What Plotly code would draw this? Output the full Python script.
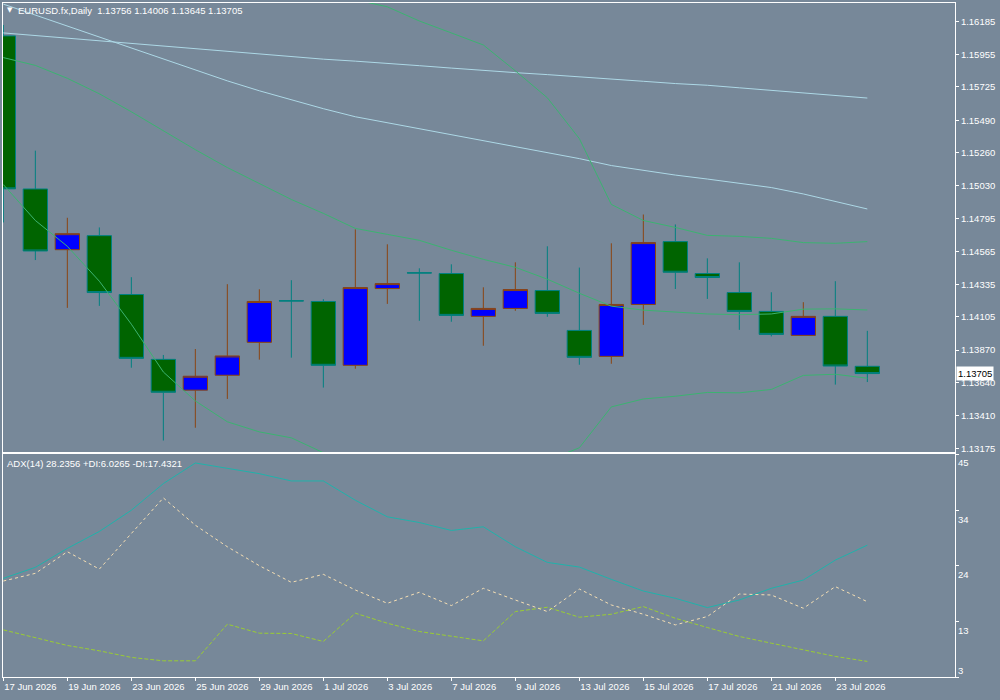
import plotly.graph_objects as go

# ---------------- data ----------------
dates = ["17 Jun 2026", "18 Jun 2026", "19 Jun 2026", "22 Jun 2026", "23 Jun 2026", "24 Jun 2026",
         "25 Jun 2026", "26 Jun 2026", "29 Jun 2026", "30 Jun 2026", "1 Jul 2026", "2 Jul 2026",
         "3 Jul 2026", "6 Jul 2026", "7 Jul 2026", "8 Jul 2026", "9 Jul 2026", "10 Jul 2026",
         "13 Jul 2026", "14 Jul 2026", "15 Jul 2026", "16 Jul 2026", "17 Jul 2026", "20 Jul 2026",
         "21 Jul 2026", "22 Jul 2026", "23 Jul 2026", "24 Jul 2026"]

opens = [1.16085, 1.15006, 1.14578, 1.14677, 1.14262, 1.13805, 1.13588, 1.13693, 1.13925, 1.14218,
         1.14213, 1.13763, 1.14304, 1.14415, 1.14410, 1.14108, 1.14164, 1.14290, 1.14009, 1.13826,
         1.14192, 1.14635, 1.14410, 1.14276, 1.14143, 1.13974, 1.14108, 1.13756]
highs = [1.16162, 1.15276, 1.14803, 1.14735, 1.14384, 1.13836, 1.13878, 1.14335, 1.14299, 1.14363,
         1.14229, 1.14721, 1.14616, 1.14447, 1.14475, 1.14313, 1.14489, 1.14602, 1.14452, 1.14623,
         1.14826, 1.14756, 1.14517, 1.14489, 1.14278, 1.14208, 1.14356, 1.14006]
lows = [1.14770, 1.14505, 1.14168, 1.14182, 1.13746, 1.13233, 1.13323, 1.13526, 1.13803, 1.13817,
        1.13606, 1.13739, 1.14196, 1.14077, 1.14070, 1.13901, 1.14147, 1.14105, 1.13767, 1.13774,
        1.14048, 1.14301, 1.14231, 1.14013, 1.13967, 1.13974, 1.13627, 1.13645]
closes = [1.15007, 1.14569, 1.14691, 1.14276, 1.13812, 1.13573, 1.13686, 1.13829, 1.14213, 1.14217,
          1.13763, 1.14311, 1.14339, 1.14414, 1.14115, 1.14164, 1.14297, 1.14129, 1.13819, 1.14192,
          1.14628, 1.14419, 1.14382, 1.14143, 1.13981, 1.14108, 1.13758, 1.13705]

ma_slow = [1.16106, 1.16087, 1.16068, 1.16049, 1.16031, 1.16013, 1.15995, 1.15977, 1.15959, 1.15940,
           1.15921, 1.15907, 1.15893, 1.15875, 1.15858, 1.15840, 1.15826, 1.15812, 1.15798, 1.15784,
           1.15765, 1.15749, 1.15737, 1.15719, 1.15702, 1.15685, 1.15666, 1.15647]
ma_fast = [1.16309, 1.16232, 1.16155, 1.16077, 1.16000, 1.15923, 1.15846, 1.15768, 1.15698, 1.15635,
           1.15572, 1.15515, 1.15473, 1.15431, 1.15389, 1.15347, 1.15304, 1.15262, 1.15220, 1.15171,
           1.15136, 1.15104, 1.15076, 1.15048, 1.15016, 1.14971, 1.14918, 1.14865]

bb_upper = [1.16827, 1.16991, 1.16991, 1.16998, 1.17047, 1.17118, 1.17054, 1.16949, 1.16794, 1.16612,
            1.16520, 1.16340, 1.16290, 1.16190, 1.16106, 1.16021, 1.15839, 1.15649, 1.15361, 1.14897,
            1.14784, 1.14735, 1.14679, 1.14672, 1.14658, 1.14628, 1.14623, 1.14635]
bb_middle = [1.15932, 1.15877, 1.15786, 1.15677, 1.15550, 1.15417, 1.15283, 1.15157, 1.15044, 1.14932,
             1.14834, 1.14728, 1.14686, 1.14644, 1.14574, 1.14510, 1.14454, 1.14370, 1.14271, 1.14180,
             1.14152, 1.14140, 1.14125, 1.14120, 1.14125, 1.14159, 1.14161, 1.14153]
bb_lower = [1.15037, 1.14784, 1.14602, 1.14356, 1.14053, 1.13716, 1.13512, 1.13365, 1.13294, 1.13252,
            1.13147, 1.13105, 1.13084, 1.13098, 1.13041, 1.12999, 1.13070, 1.13091, 1.13182, 1.13470,
            1.13526, 1.13545, 1.13572, 1.13569, 1.13593, 1.13692, 1.13700, 1.13672]

adx = [21.89, 23.99, 27.61, 30.85, 34.90, 39.99, 43.93, 42.98, 41.89, 40.50,
       40.50, 36.81, 33.65, 32.56, 31.04, 31.74, 27.93, 24.94, 24.05, 21.70,
       19.47, 18.08, 16.31, 17.76, 19.99, 21.57, 25.38, 28.2356]
plus_di = [12.05, 10.60, 9.07, 8.05, 6.79, 6.14, 6.14, 13.13, 11.42, 11.36,
           9.84, 15.23, 13.32, 11.74, 10.90, 9.95, 15.55, 16.37, 14.47, 15.04,
           16.50, 14.27, 12.50, 10.79, 9.51, 8.24, 6.98, 6.0265]
minus_di = [21.38, 22.85, 26.98, 23.66, 30.46, 37.26, 32.04, 27.93, 24.31, 21.13,
            22.66, 19.67, 17.13, 19.23, 16.69, 19.99, 17.76, 15.55, 19.85, 16.81,
            15.04, 13.00, 14.60, 18.90, 18.71, 16.18, 20.31, 17.4321]

price_ticks = [1.16185, 1.15955, 1.15725, 1.15490, 1.15260, 1.15030, 1.14795,
               1.14565, 1.14335, 1.14105, 1.13870, 1.13640, 1.13410, 1.13175]
adx_tick_vals = [45.53, 34.90, 24.27, 13.65, 3.00]
adx_tick_text = ["45", "34", "24", "13", "3"]

symbol = "EURUSD.fx,Daily"
last_price = closes[-1]

# ---------------- figure ----------------
BG = "#778899"
FONT = "Liberation Sans, Arial, sans-serif"
FS = 9.5
x = list(range(len(dates)))
date_idx = x[::2]

fig = go.Figure()

fig.add_trace(go.Candlestick(
    x=x, open=opens, high=highs, low=lows, close=closes,
    increasing=dict(fillcolor="#0000FF", line=dict(color="#8B4513", width=1)),
    decreasing=dict(fillcolor="#006400", line=dict(color="#008080", width=1)),
    whiskerwidth=0, xaxis="x", yaxis="y", showlegend=False, hoverinfo="skip"))

for ys, col in [(ma_slow, "#ADD8E6"), (ma_fast, "#ADD8E6"),
                (bb_upper, "#3CB371"), (bb_middle, "#3CB371"), (bb_lower, "#3CB371")]:
    fig.add_trace(go.Scatter(x=x, y=ys, mode="lines", line=dict(color=col, width=1),
                             xaxis="x", yaxis="y", showlegend=False, hoverinfo="skip"))

fig.add_trace(go.Scatter(x=x, y=adx, mode="lines", line=dict(color="#20B2AA", width=1),
                         xaxis="x2", yaxis="y2", showlegend=False, hoverinfo="skip"))
fig.add_trace(go.Scatter(x=x, y=plus_di, mode="lines",
                         line=dict(color="#9ACD32", width=1, dash="4px,2px"),
                         xaxis="x2", yaxis="y2", showlegend=False, hoverinfo="skip"))
fig.add_trace(go.Scatter(x=x, y=minus_di, mode="lines",
                         line=dict(color="#F5DEB3", width=1, dash="3px,3px"),
                         xaxis="x2", yaxis="y2", showlegend=False, hoverinfo="skip"))

W, H = 1000, 700
x_dom = [2.7 / W, 955 / W]
main_dom = [1 - 453.3 / H, 1 - 2.7 / H]
sub_dom = [1 - 679.3 / H, 1 - 455.7 / H]
x_range = [-0.02, 29.74]

axis_common = dict(showgrid=False, zeroline=False, showline=True, mirror=True,
                   linecolor="white", linewidth=1)

fig.update_layout(
    width=W, height=H,
    margin=dict(l=0, r=0, t=0, b=0),
    paper_bgcolor=BG, plot_bgcolor=BG,
    font=dict(family=FONT, size=FS, color="white"),
    boxgap=0.24, boxgroupgap=0,
    showlegend=False,
    xaxis=dict(domain=x_dom, anchor="y", range=x_range, showticklabels=False,
               ticks="", rangeslider=dict(visible=False), **axis_common),
    yaxis=dict(domain=main_dom, anchor="x", range=[1.13152, 1.16319], side="right",
               tickvals=price_ticks, ticktext=[f"{v:.5f}" for v in price_ticks],
               ticks="outside", ticklen=3, tickcolor="white",
               tickfont=dict(family=FONT, size=FS, color="white"), **axis_common),
    xaxis2=dict(domain=x_dom, anchor="y2", range=x_range,
                tickvals=date_idx, ticktext=[dates[i] for i in date_idx],
                ticks="outside", ticklen=3, tickcolor="white",
                ticklabelposition="outside right",
                tickfont=dict(family=FONT, size=FS, color="white"), **axis_common),
    yaxis2=dict(domain=sub_dom, anchor="x2", range=[2.98, 45.57], side="right",
                tickvals=adx_tick_vals, showticklabels=False,
                ticks="outside", ticklen=3, tickcolor="white", **axis_common),
)

annotations = []
# chart header
annotations.append(dict(
    text="\u25BC", x=10 / W, y=1 - 10.5 / H, xref="paper", yref="paper",
    xanchor="center", yanchor="middle", showarrow=False,
    font=dict(family="DejaVu Sans", size=7, color="white")))
annotations.append(dict(
    text=f"{symbol}\u00a0\u00a0{opens[-1]:.5f} {highs[-1]:.5f} {lows[-1]:.5f} {closes[-1]:.5f}",
    x=16 / W, y=1 - 10.5 / H, xref="paper", yref="paper",
    xanchor="left", yanchor="middle", showarrow=False,
    font=dict(family=FONT, size=FS, color="white")))
annotations.append(dict(
    text=f"ADX(14) {adx[-1]:.4f} +DI:{plus_di[-1]:.4f} -DI:{minus_di[-1]:.4f}",
    x=5 / W, y=1 - 464.5 / H, xref="paper", yref="paper",
    xanchor="left", yanchor="middle", showarrow=False,
    font=dict(family=FONT, size=FS, color="white")))
# current price marker
annotations.append(dict(
    text=f"{last_price:.5f}", x=956 / W, y=last_price, xref="paper", yref="y",
    xanchor="left", yanchor="middle", showarrow=False, bgcolor="white",
    borderpad=1, font=dict(family=FONT, size=FS, color="black")))
# ADX axis labels (MT4 draws them just below each tick, last one above)
shifts = [-7.5, -8.8, -8.8, -8.6, 6.8]
for v, t, s in zip(adx_tick_vals, adx_tick_text, shifts):
    annotations.append(dict(
        text=t, x=956 / W, y=v, xref="paper", yref="y2", yshift=s,
        xanchor="left", yanchor="middle", showarrow=False,
        font=dict(family=FONT, size=FS, color="white")))

fig.update_layout(annotations=annotations)

fig.write_html("out.html")
